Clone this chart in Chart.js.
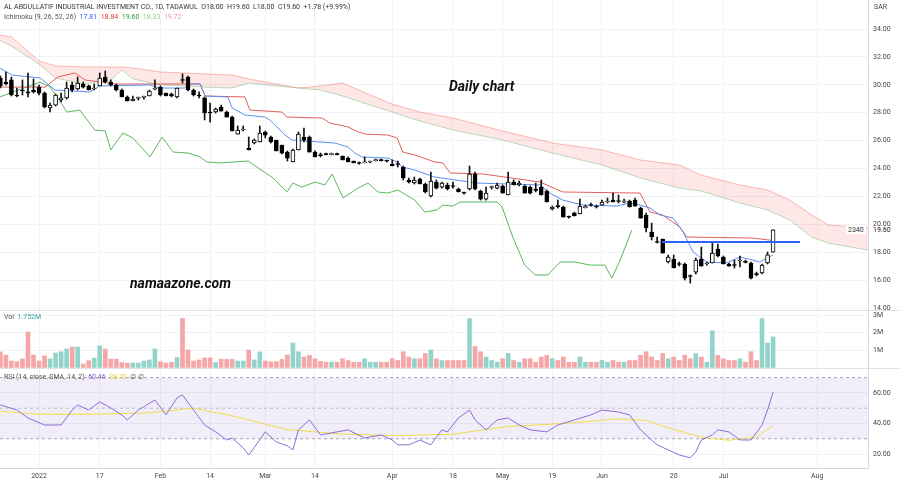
<!DOCTYPE html>
<html>
<head>
<meta charset="utf-8">
<title>Al Abdullatif - daily chart</title>
<script src="https://cdn.jsdelivr.net/npm/chart.js@4.4.1/dist/chart.umd.min.js"></script>
<style>
  body { margin: 0; background: #fff; font-family: Roboto, "Liberation Sans", sans-serif; }
  #wrap { position: relative; width: 900px; height: 483px; overflow: hidden; }
  canvas { position: absolute; left: 0; }
  .sep { position: absolute; left: 0; width: 900px; height: 1px; background: #e0e3eb; }
  .txt { position: absolute; white-space: nowrap; font-size: 7px; line-height: 8px; color: #333; }
  .big { position: absolute; white-space: nowrap; font-weight: bold; font-style: italic; color: #111; }
</style>
</head>
<body>
<div id="wrap">
  <canvas id="priceCanvas" width="900" height="310" style="top:0"></canvas>
  <canvas id="volCanvas" width="900" height="58" style="top:310px"></canvas>
  <canvas id="rsiCanvas" width="900" height="115" style="top:368px"></canvas>
  <div class="sep" style="top:310px"></div>
  <div class="sep" style="top:368px"></div>

  <div class="txt" style="left:4px;top:3px">AL ABDULLATIF INDUSTRIAL INVESTMENT CO., 1D, TADAWUL&nbsp;&nbsp;O18.00&nbsp;&nbsp;H19.60&nbsp;&nbsp;L18.00&nbsp;&nbsp;C19.60&nbsp;&nbsp;+1.78 (+9.99%)</div>
  <div class="txt" style="left:4px;top:13px;color:#555">Ichimoku (9, 26, 52, 26)&nbsp;&nbsp;<span style="color:#2962ff">17.81</span>&nbsp;&nbsp;<span style="color:#e53935">18.84</span>&nbsp;&nbsp;<span style="color:#2e9c3a">19.60</span>&nbsp;&nbsp;<span style="color:#8fcf93">18.33</span>&nbsp;&nbsp;<span style="color:#f09a9a">19.72</span></div>
  <div class="txt" style="left:874px;top:3px;color:#444">SAR</div>
  <div class="big" style="left:449px;top:78px;font-size:14px">Daily chart</div>
  <div class="big" style="left:130px;top:275px;font-size:14px">namaazone.com</div>
  <div class="txt" style="left:846px;top:226px;background:#fff;padding:0 2px;color:#333">2340</div>
  <div class="txt" style="left:870px;top:226px;background:#fff;padding:0 3px;color:#222">19.60</div>
  <div class="txt" style="left:4px;top:313px;color:#555">Vol&nbsp;&nbsp;<span style="color:#26a69a">1.752M</span></div>
  <div class="txt" style="left:4px;top:373px;color:#555">RSI (14, close, SMA, 14, 2)&nbsp;&nbsp;<span style="color:#7e57c2">60.46</span>&nbsp;&nbsp;<span style="color:#e5cf3a">38.73</span>&nbsp;&nbsp;&#8709;&nbsp;&#8709;</div>
</div>

<script>
// bar index 0 = 2 Jan 2022, first visible bar is index -7
const firstIdx = -7;

const opens = [30.49, 30.20, 30.35, 29.27, 29.63, 29.49, 29.63,
  29.84, 29.41, 28.34, 28.55, 28.91, 29.06, 29.99, 29.70, 30.06, 29.92,
  29.70, 29.92, 30.56, 30.20, 29.99, 29.63, 29.13, 28.84, 29.04, 29.10,
  29.20, 29.70, 29.84, 29.41, 29.34, 29.13, 30.35, 30.56, 29.63, 29.27,
  29.06, 28.05, 28.05, 28.41, 28.05, 27.69, 26.47, 26.76, 25.47, 25.83,
  25.90, 26.62, 26.26, 26.04, 25.69, 25.18, 24.47, 25.33, 26.26, 26.26,
  25.18, 24.97, 25.04, 25.00, 25.04, 24.90, 24.75, 24.54, 24.40, 24.40,
  24.47, 24.57, 24.61, 24.54, 24.32, 24.32, 24.11, 23.18, 22.96, 23.25,
  22.89, 22.03, 23.03, 22.67, 22.82, 22.75, 22.53, 22.28, 22.53, 23.61,
  22.39, 21.81, 22.64, 22.60, 22.75, 22.10, 23.03, 22.82, 22.75, 22.67,
  22.46, 22.67, 22.39, 21.10, 21.31, 21.24, 20.56, 20.81, 20.74, 21.20,
  21.38, 21.31, 21.38, 21.60, 21.74, 21.67, 21.60, 21.67, 21.74, 21.17,
  20.67, 19.45, 18.73, 18.95, 17.30, 17.51, 17.16, 17.16, 16.30, 16.58,
  17.51, 17.16, 17.23, 18.23, 17.66, 17.16, 17.08, 17.37, 17.30, 17.23,
  16.44, 16.51, 17.23, 18.00];

const highs = [30.63, 30.92, 30.56, 29.77, 30.35, 30.85, 30.42,
  29.99, 29.49, 28.70, 29.34, 29.41, 30.20, 30.20, 30.56, 30.20, 29.99,
  30.06, 30.85, 30.99, 30.35, 30.06, 29.70, 29.20, 29.20, 29.13, 29.20,
  29.63, 30.35, 29.92, 29.41, 29.41, 29.77, 30.78, 30.63, 29.70, 29.49,
  29.13, 28.70, 28.34, 28.55, 28.12, 27.76, 27.05, 27.05, 26.26, 26.12,
  27.05, 26.69, 26.33, 26.04, 25.69, 25.26, 25.40, 26.62, 26.90, 26.33,
  25.26, 25.11, 25.11, 25.11, 25.11, 24.90, 24.83, 24.54, 24.47, 24.83,
  24.54, 24.68, 24.68, 24.61, 24.61, 24.54, 24.18, 23.32, 23.39, 23.32,
  22.96, 23.75, 23.18, 23.03, 22.96, 23.03, 22.60, 22.32, 24.18, 23.75,
  22.46, 22.67, 22.75, 22.96, 22.82, 23.75, 23.18, 23.10, 22.82, 22.75,
  22.96, 23.18, 22.46, 21.31, 21.74, 21.31, 20.60, 20.88, 21.81, 21.38,
  21.53, 21.38, 21.74, 21.89, 22.24, 22.10, 21.81, 21.74, 21.89, 21.24,
  20.81, 20.09, 19.09, 18.95, 17.80, 17.80, 17.30, 17.23, 16.37, 17.59,
  18.37, 17.30, 18.73, 18.59, 17.73, 17.23, 17.44, 17.73, 17.44, 17.30,
  16.58, 17.16, 18.02, 19.60];

const lows = [29.77, 29.99, 29.20, 29.13, 29.27, 29.13, 29.41,
  29.27, 28.34, 28.05, 28.48, 28.77, 28.98, 29.49, 29.63, 29.77, 29.63,
  29.63, 29.92, 30.13, 29.92, 29.56, 29.13, 28.84, 28.84, 28.91, 28.98,
  29.20, 29.63, 29.20, 29.20, 29.13, 29.06, 30.13, 29.56, 29.20, 29.06,
  27.48, 27.33, 27.98, 28.12, 27.69, 26.69, 26.47, 26.69, 25.33, 25.76,
  25.90, 26.19, 25.83, 25.26, 25.04, 24.54, 24.47, 25.33, 25.90, 25.18,
  24.83, 24.83, 24.97, 24.97, 24.97, 24.61, 24.47, 24.40, 24.32, 24.40,
  24.40, 24.54, 24.54, 24.47, 24.18, 24.11, 23.18, 22.96, 22.89, 22.89,
  22.24, 21.96, 22.53, 22.60, 22.46, 22.60, 22.32, 22.17, 22.46, 22.46,
  21.74, 21.74, 22.53, 22.53, 22.24, 22.10, 22.82, 22.75, 22.24, 22.17,
  22.32, 22.10, 21.60, 21.03, 21.17, 20.52, 20.45, 20.60, 20.74, 21.17,
  21.31, 21.17, 21.38, 21.53, 21.60, 21.53, 21.53, 21.24, 21.31, 20.45,
  19.45, 18.88, 18.66, 17.94, 17.23, 16.87, 17.01, 16.01, 15.79, 16.44,
  17.01, 17.08, 17.23, 17.66, 17.16, 17.01, 16.87, 16.94, 17.23, 16.08,
  16.30, 16.44, 17.16, 18.00];

const closes = [29.92, 30.06, 29.27, 29.20, 29.56, 29.41, 29.49,
  29.41, 28.41, 28.55, 29.27, 29.06, 29.77, 29.63, 30.13, 29.84, 29.63,
  29.77, 30.49, 30.20, 29.99, 29.63, 29.13, 28.84, 28.98, 29.06, 29.12,
  29.56, 29.77, 29.27, 29.20, 29.20, 29.77, 30.31, 29.63, 29.27, 29.20,
  27.98, 27.98, 28.27, 28.12, 27.69, 26.69, 26.76, 26.80, 25.33, 26.04,
  26.55, 26.40, 25.90, 25.26, 25.11, 24.75, 25.33, 26.47, 26.04, 25.18,
  24.83, 24.93, 25.00, 25.04, 25.00, 24.61, 24.47, 24.40, 24.36, 24.43,
  24.50, 24.61, 24.57, 24.52, 24.18, 24.29, 23.32, 23.03, 23.18, 22.89,
  22.32, 23.10, 22.60, 22.96, 22.53, 22.71, 22.32, 22.24, 23.61, 22.53,
  21.81, 22.24, 22.67, 22.82, 22.24, 23.03, 22.82, 22.96, 22.24, 22.24,
  22.43, 22.10, 21.60, 21.24, 21.27, 20.52, 20.52, 20.60, 21.31, 21.24,
  21.35, 21.24, 21.60, 21.64, 21.60, 21.64, 21.67, 21.24, 21.31, 20.45,
  19.74, 19.09, 18.70, 17.94, 17.66, 16.87, 17.12, 16.15, 16.26, 17.44,
  17.01, 17.19, 17.94, 17.73, 17.16, 17.01, 17.05, 17.44, 17.27, 16.15,
  16.40, 17.08, 17.82, 19.60];

// volume in millions of shares
const volumes = [0.89, 0.71, 0.37, 0.33, 0.49, 2.03, 0.71,
  0.37, 0.66, 0.49, 0.83, 0.90, 1.06, 1.17, 1.17, 0.20, 0.39,
  0.54, 1.23, 1.06, 0.48, 0.48, 0.28, 0.25, 0.25, 0.25, 0.37,
  0.43, 1.06, 0.33, 0.25, 0.30, 0.57, 2.81, 1.00, 0.37, 0.43,
  0.55, 0.55, 0.28, 0.48, 0.46, 0.46, 0.37, 0.37, 1.00, 0.43,
  0.89, 0.37, 0.33, 0.33, 0.46, 0.71, 1.40, 0.90, 0.60, 0.70,
  0.50, 0.35, 0.30, 0.30, 0.30, 0.50, 0.40, 0.30, 0.30, 0.50,
  0.30, 0.30, 0.30, 0.30, 0.50, 0.40, 0.90, 0.60, 0.50, 0.50,
  0.80, 1.00, 0.50, 0.40, 0.40, 0.40, 0.40, 0.40, 2.80, 1.20,
  0.90, 0.60, 0.40, 0.30, 0.50, 0.80, 0.40, 0.30, 0.50, 0.50,
  0.30, 0.60, 0.70, 0.50, 0.40, 0.60, 0.30, 0.30, 0.60, 0.30,
  0.30, 0.30, 0.40, 0.30, 0.40, 0.30, 0.30, 0.40, 0.40, 0.70,
  0.90, 0.60, 0.40, 0.80, 0.50, 0.60, 0.40, 0.70, 0.50, 0.80,
  0.60, 0.30, 2.10, 0.70, 0.50, 0.40, 0.40, 0.50, 0.30, 0.90,
  0.40, 2.80, 1.40, 1.752];

// Ichimoku lines: [bar index, price]
const tenkanPts = [[-7.1, 31.21], [-4.9, 30.70], [0.2, 30.49], [2.9, 29.63], [9.2, 29.49], [11, 29.92],
  [20.1, 29.99], [21.9, 29.77], [26.4, 29.77], [27.4, 30.06], [29.2, 30.06], [30.1, 29.20], [34.2, 29.13],
  [35, 28.34], [37.3, 27.84], [40.9, 27.69], [41.8, 27.48], [44.6, 26.40], [45.8, 26.04], [53.6, 25.83],
  [56, 25.54], [57.2, 25.11], [58.5, 24.83], [63.2, 24.75], [64.9, 24.47], [65.8, 24.11], [68.1, 23.89],
  [71.7, 23.39], [79.3, 22.96], [90.8, 22.82], [92.6, 22.24], [94.9, 21.74], [98.6, 21.38], [104.7, 21.31],
  [107.1, 21.53], [108.9, 21.38], [110.7, 21.17], [112.5, 20.67], [114.9, 20.45], [116.7, 19.45],
  [118.5, 18.02], [121, 17.30], [124.6, 17.23], [127, 17.66], [129.3, 17.44], [130.6, 17.30], [133, 17.81]];

const kijunPts = [[-7.1, 29.84], [1.1, 29.84], [3.4, 30.56], [6.5, 30.85], [8.3, 30.35], [13.8, 30.06],
  [29.2, 30.06], [30.1, 29.20], [37.3, 29.13], [38.2, 28.19], [44, 28.05], [44.9, 27.69], [51.3, 27.62],
  [52.7, 27.26], [56, 26.98], [57.8, 26.62], [59.1, 26.47], [63.2, 26.40], [64.9, 26.19], [65.9, 25.18],
  [68.1, 24.97], [71.7, 24.47], [73.2, 24.40], [74.5, 23.68], [80.4, 23.61], [90.8, 23.03], [94.9, 22.32],
  [108.9, 22.24], [110.7, 20.88], [113, 20.67], [116.1, 19.81], [117.4, 19.09], [129.3, 19.02], [133, 18.84]];

const chikouPts = [[-7.1, 29.13], [-4.7, 29.49], [0.2, 30.20], [2, 29.84], [5.1, 28.05], [7.4, 28.19],
  [10.1, 26.76], [12, 26.69], [13, 25.33], [15.2, 26.55], [17, 26.19], [20.1, 24.83], [22.3, 26.26],
  [24.3, 25.18], [27, 25.11], [29.2, 24.83], [30.4, 24.47], [32.8, 24.40], [37.9, 24.54], [39.7, 24.04],
  [42.4, 23.32], [44.9, 22.32], [46, 22.96], [47.6, 22.67], [50, 23.03], [51.8, 22.82], [53.1, 23.61],
  [55.1, 21.89], [57.8, 22.60], [59.6, 22.96], [61.4, 22.32], [63.2, 22.24], [65, 22.46], [68.1, 21.74],
  [69.9, 20.88], [72.1, 21.03], [73.2, 21.38], [75, 21.31], [76.3, 21.60], [83, 21.60], [83.9, 21.24],
  [85.9, 19.02], [88, 17.08], [89.9, 16.37], [92.2, 16.37], [94.4, 17.30], [97.1, 17.30], [99.8, 17.08],
  [102.5, 17.08], [103.8, 16.15], [105.3, 17.44], [107.4, 19.59]];

// cloud edges share the same bar indices
const cloudIdx = [-8, -5, 0, 3, 8, 13, 15, 17, 22, 30, 35, 38, 47, 51, 55, 60, 64, 69, 75, 84,
  93, 102, 109, 116, 120, 127, 132, 136, 140, 143, 151];
const spanA = [33.36, 32.78, 31.49, 30.49, 30.06, 30.35, 31.06, 30.42, 29.99, 29.84, 29.77, 30.13,
  29.77, 29.63, 29.20, 28.55, 28.05, 27.41, 26.76, 26.04, 25.11, 24.25, 23.32, 22.60, 22.39, 21.53,
  21.03, 20.31, 19.09, 18.66, 18.09];
const spanB = [33.64, 33.43, 31.71, 31.35, 31.28, 31.28, 31.28, 31.21, 30.92, 30.78, 30.70, 30.42,
  29.77, 29.92, 30.13, 29.27, 28.62, 28.05, 27.62, 26.69, 25.83, 25.33, 24.61, 24.25, 23.53, 22.82,
  22.46, 21.74, 20.67, 19.95, 19.74];

// horizontal line drawn on the chart
const hLineIdx = [112.9, 137.9];
const hLinePrice = 18.73;

// RSI and its SMA: [bar index, value]
const rsiPts = [[-7, 52.1], [-4, 48.8], [-2, 43.6], [1, 39.0], [4, 39.0], [6, 48.8], [7, 52.1], [9, 48.8],
  [11, 54.1], [13, 50.2], [15, 45.6], [16, 42.3], [18, 48.8], [21, 55.4], [23, 45.6], [25, 56.7],
  [26, 58.7], [28, 48.8], [30, 39.0], [32, 34.5], [34, 29.2], [35, 30.5], [37, 24.0], [38, 19.4],
  [40, 29.2], [41, 34.5], [43, 27.9], [45, 25.3], [46, 22.7], [47, 35.8], [49, 42.3], [51, 32.5],
  [54, 34.5], [56, 35.8], [59, 30.5], [62, 32.5], [64, 29.2], [65, 26.0], [67, 26.0], [69, 29.2],
  [71, 26.0], [73, 35.8], [74, 34.5], [76, 43.6], [78, 48.8], [79, 42.3], [81, 35.8], [83, 42.3],
  [85, 43.6], [87, 39.0], [89, 35.8], [92, 34.5], [94, 39.0], [97, 42.3], [100, 45.6], [102, 48.8],
  [105, 47.5], [107, 45.6], [109, 35.8], [111, 29.2], [112, 26.0], [114, 22.7], [116, 19.4], [118, 17.5],
  [119, 21.4], [120, 29.2], [122, 32.5], [123, 35.8], [125, 34.5], [127, 29.2], [129, 29.2], [131, 39.0],
  [132, 48.8], [133, 60.46]];
const rsiSmaPts = [[-7, 48], [0, 46], [10, 46], [20, 47], [28, 50], [35, 45], [45, 36], [55, 33],
  [65, 32], [75, 33], [85, 38], [95, 40], [105, 43], [110, 42], [115, 36], [120, 31], [125, 29],
  [130, 31], [133, 38.73]];
const rsiUpper = 70, rsiMid = 50, rsiLower = 30;

// time axis labels
const tickIdx = [0, 11, 22, 31, 41, 50, 64, 75, 84, 93, 102, 115, 124, 141];
const tickText = ['2022', '17', 'Feb', '14', 'Mar', '14', 'Apr', '18', 'May', '19', 'Jun', '20', 'Jul', 'Aug'];

const priceTicks = [14, 16, 18, 20, 22, 24, 26, 28, 30, 32, 34];
const volTicks = [1, 2, 3];
const rsiTicks = [20, 40, 60];

const X_MIN = -7.07, X_MAX = 150.2;

Chart.defaults.font.family = 'Roboto, "Liberation Sans", sans-serif';
Chart.defaults.font.size = 7;
Chart.defaults.color = '#444';

const barIdx = opens.map((o, i) => i + firstIdx);
const isUp = opens.map((o, i) => closes[i] >= opens[i]);
const toXY = pts => pts.map(p => ({ x: p[0], y: p[1] }));

function xAxis(showLabels) {
  return {
    type: 'linear', min: X_MIN, max: X_MAX, offset: false,
    afterBuildTicks: s => { s.ticks = tickIdx.map(v => ({ value: v })); },
    afterFit: s => { s.height = showLabels ? 15 : 0; s.paddingLeft = 0; s.paddingRight = 0; },
    grid: { color: '#f0f2f6', drawTicks: false, offset: false },
    border: { display: showLabels, color: '#d6d8de' },
    ticks: {
      display: showLabels, autoSkip: false, maxRotation: 0, padding: 4, color: '#444',
      callback: (v, i) => tickText[i]
    }
  };
}

function yAxis(min, max, ticks, fmt) {
  return {
    position: 'right', min: min, max: max,
    afterBuildTicks: s => { s.ticks = ticks.map(v => ({ value: v })); },
    afterFit: s => { s.width = 32; s.paddingTop = 0; s.paddingBottom = 0; },
    grid: { color: '#f0f2f6', drawTicks: false },
    border: { display: true, color: '#d6d8de' },
    ticks: { padding: 5, color: '#444', callback: fmt }
  };
}

const baseOptions = {
  responsive: false,
  devicePixelRatio: 1,
  animation: false,
  events: [],
  layout: { padding: 0 },
  plugins: { legend: { display: false }, tooltip: { enabled: false } }
};

function lineSet(pts, color, order, width) {
  return {
    type: 'line', data: toXY(pts), borderColor: color, borderWidth: width || 1,
    pointRadius: 0, tension: 0, fill: false, order: order
  };
}

// price pane
new Chart(document.getElementById('priceCanvas'), {
  type: 'bar',
  data: {
    datasets: [
      {
        type: 'line', data: cloudIdx.map((x, i) => ({ x: x, y: spanA[i] })),
        borderColor: 'rgba(67,160,71,0.35)', borderWidth: 1, pointRadius: 0, fill: false, order: 20
      },
      {
        type: 'line', data: cloudIdx.map((x, i) => ({ x: x, y: spanB[i] })),
        borderColor: 'rgba(244,67,54,0.35)', borderWidth: 1, pointRadius: 0,
        fill: { target: 0, above: 'rgba(244,67,54,0.12)', below: 'rgba(67,160,71,0.12)' }, order: 19
      },
      lineSet(chikouPts, '#5cb85c', 10),
      lineSet(kijunPts, '#e0605a', 9),
      lineSet(tenkanPts, '#5b8ff0', 8),
      {
        type: 'bar', data: barIdx.map((x, i) => ({ x: x, y: [lows[i], highs[i]] })),
        backgroundColor: '#111', barThickness: 1, grouped: false, order: 3
      },
      {
        type: 'bar', data: barIdx.map((x, i) => ({ x: x, y: [opens[i], closes[i]] })),
        backgroundColor: isUp.map(u => u ? '#fff' : '#000'), borderColor: '#000', borderWidth: 1,
        borderSkipped: false, barThickness: 4, minBarLength: 1, grouped: false, order: 2
      },
      lineSet([[hLineIdx[0], hLinePrice], [hLineIdx[1], hLinePrice]], '#2962ff', 1, 2)
    ]
  },
  options: Object.assign({}, baseOptions, {
    scales: {
      x: xAxis(false),
      y: yAxis(13.86, 36.08, priceTicks, v => v.toFixed(2))
    }
  })
});

// volume pane
new Chart(document.getElementById('volCanvas'), {
  type: 'bar',
  data: {
    datasets: [{
      data: barIdx.map((x, i) => ({ x: x, y: volumes[i] })),
      backgroundColor: isUp.map(u => u ? '#93d4ca' : '#f5a6a6'),
      barThickness: 4, grouped: false
    }]
  },
  options: Object.assign({}, baseOptions, {
    scales: {
      x: xAxis(false),
      y: yAxis(-0.03, 3.29, volTicks, v => v + 'M')
    }
  })
});

// RSI pane
const flat = v => [[X_MIN, v], [X_MAX, v]];
new Chart(document.getElementById('rsiCanvas'), {
  type: 'line',
  data: {
    datasets: [
      Object.assign(lineSet(flat(rsiUpper), '#a3a6af', 10), { borderDash: [3, 3] }),
      Object.assign(lineSet(flat(rsiLower), '#a3a6af', 10), {
        borderDash: [3, 3], fill: { target: 0, above: 'rgba(126,87,194,0.1)', below: 'rgba(126,87,194,0.1)' }
      }),
      Object.assign(lineSet(flat(rsiMid), '#c3c5cc', 10), { borderDash: [3, 3] }),
      lineSet(rsiSmaPts, '#f2dc4a', 2),
      lineSet(rsiPts, '#8a6fd6', 1)
    ]
  },
  options: Object.assign({}, baseOptions, {
    scales: {
      x: xAxis(true),
      y: yAxis(10.85, 76.3, rsiTicks, v => v.toFixed(2))
    }
  })
});
</script>
</body>
</html>
